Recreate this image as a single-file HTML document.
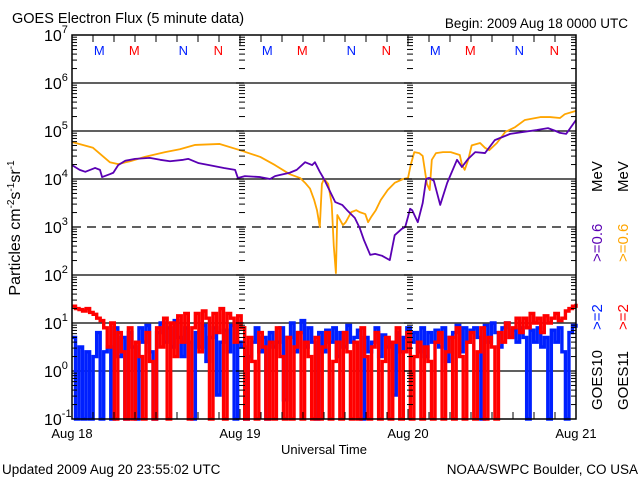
<!DOCTYPE html>
<html><head><meta charset="utf-8"><style>
html,body{margin:0;padding:0;background:#fff;}
svg{display:block;font-family:"Liberation Sans",sans-serif;}
</style></head><body>
<svg id="chart" width="640" height="480" viewBox="0 0 640 480" xmlns="http://www.w3.org/2000/svg">
<rect width="640" height="480" fill="#fff"/>
<text x="12" y="23" font-size="14.5">GOES Electron Flux (5 minute data)</text>
<text x="628" y="28" font-size="13.5" text-anchor="end">Begin: 2009 Aug 18 0000 UTC</text>
<g id="grid"></g>
<g id="series"></g>
<g id="axes"></g>
<text transform="translate(20,228) rotate(-90)" font-size="16" text-anchor="middle">Particles cm<tspan font-size="10" dy="-6">-2</tspan><tspan dy="6">s</tspan><tspan font-size="10" dy="-6">-1</tspan><tspan dy="6">sr</tspan><tspan font-size="10" dy="-6">-1</tspan></text>
<text x="324" y="454" font-size="13" text-anchor="middle">Universal Time</text>
<text x="2" y="474" font-size="13.5">Updated 2009 Aug 20 23:55:02 UTC</text>
<text x="638" y="474" font-size="13.5" text-anchor="end">NOAA/SWPC Boulder, CO USA</text>
<g transform="translate(602,410) rotate(-90)" font-size="15">
<text x="0" y="0">GOES10</text>
<text x="80" y="0" fill="#0020ff">&gt;=2</text>
<text x="148" y="0" fill="#5a00b4">&gt;=0.6</text>
<text x="218" y="0">MeV</text>
</g>
<g transform="translate(628,410) rotate(-90)" font-size="15">
<text x="0" y="0">GOES11</text>
<text x="80" y="0" fill="#ff0000">&gt;=2</text>
<text x="148" y="0" fill="#ffa500">&gt;=0.6</text>
<text x="218" y="0">MeV</text>
</g>
</svg>
<script>
// ---- data ----
const dayLabels = ["Aug 18","Aug 19","Aug 20","Aug 21"];
const yTickExps = [7,6,5,4,3,2,1,0,-1];
const markerLetters = ["M","M","N","N"];
const markerHours = [3.9,8.9,15.9,20.9];
// >=0.6 MeV GOES11 (orange): hours and log10 flux
const orangeHours = [0,3,5.4,6.6,8.3,10.4,13.3,15.4,17.6,21.1,24,26.9,29,31.1,32.6,33.3,34,34.6,35,35.4,35.7,36,36.6,37.1,37.4,37.7,37.9,38.1,38.7,39.1,39.9,40.6,41.1,41.9,42.3,42.7,43.4,44.1,45.1,46.1,47.3,48,48.4,48.9,49.6,50.1,50.7,51.1,51.4,52,53,54.1,55.4,55.7,56.1,56.6,57.1,58.3,59,59.6,60.7,61.9,63.3,64.7,66.9,68.3,69.7,70.4,72];
const orangeLog = [4.77,4.65,4.35,4.31,4.37,4.46,4.56,4.62,4.71,4.73,4.6,4.46,4.29,4.1,4.02,3.92,3.8,3.56,3.35,3.0,3.9,4.0,3.9,3.48,2.6,2.04,3.25,3.2,3.04,3.1,3.31,3.35,3.31,3.27,3.1,3.2,3.35,3.56,3.77,3.92,4.0,4.02,4.3,4.56,4.54,4.48,3.9,3.77,4.4,4.54,4.56,4.56,4.5,4.3,4.19,4.4,4.7,4.75,4.65,4.6,4.75,4.98,5.08,5.23,5.29,5.29,5.27,5.35,5.42];
// >=0.6 MeV GOES10 (purple)
const purpleHours = [0,1.1,1.9,3.3,4,4.3,5.4,5.9,6.6,7.6,9,11.1,12.6,14,15.9,16.6,18.1,19.6,21.7,23.3,23.7,24.7,26.9,28.3,29,29.6,31.1,32.1,33.3,34.3,34.7,35.4,36,36.9,37.6,38.6,39.3,40.4,41.1,41.7,42.6,43.3,44.3,45.4,46.1,47.1,47.6,48,48.3,48.6,49.4,50.1,50.6,50.9,51.1,51.7,52.6,53.6,55,55.7,56.6,57.6,59,60.4,62.6,66.4,68,69.1,69.7,70.6,72];
const purpleLog = [4.29,4.19,4.15,4.23,4.19,4.04,4.1,4.13,4.29,4.38,4.42,4.44,4.4,4.37,4.4,4.42,4.33,4.29,4.23,4.19,4.02,4.06,4.04,4.0,4.06,4.08,4.13,4.19,4.35,4.29,4.35,4.15,4.0,3.73,3.52,3.46,3.35,3.19,2.98,2.73,2.42,2.44,2.4,2.31,2.83,2.96,3.0,3.21,3.38,3.35,3.1,3.5,4.0,4.02,4.02,3.96,3.46,3.92,4.4,4.25,4.42,4.56,4.54,4.81,4.94,5.02,5.06,5.0,4.96,4.94,5.23];
// >=2 MeV GOES10 (blue), 30-minute samples, log10 flux
const blueLog = [0.7,-1,0.5,-1,0.4,-1,0.3,0.8,-1,0.4,0.5,-1,0.9,0.3,0.7,-1,
0.8,0.5,-1,0.9,0.6,0.95,0.4,-1,0.8,1.0,0.6,0.9,0.5,1.05,0.7,0.3,
0.9,0.6,-1,0.8,0.5,0.95,0.2,0.7,0.9,-0.5,0.6,0.85,0.4,0.95,-1,0.6,
0.5,-1,0.3,0.6,0.9,0.4,0.7,-1,0.8,0.5,0.6,0.9,-0.6,0.7,1.0,0.4,
0.8,1.05,0.5,0.9,0.6,-1,0.8,0.4,0.85,0.6,0.9,0.3,0.8,0.5,0.95,0.6,
0.7,0.85,-1,0.7,0.4,0.6,0.9,0.3,0.75,0.5,0.6,-0.5,0.8,0.4,0.7,0.9,
0.6,0.8,0.4,0.9,0.3,0.8,0.6,0.85,0.5,0.9,0.2,0.7,0.8,0.95,0.4,0.9,
0.6,0.85,0.9,0.7,-1,0.95,0.6,1.0,0.8,0.5,0.9,1.0,0.7,0.85,0.6,0.9,
0.7,-1,0.85,0.6,0.9,0.5,0.7,-1,0.85,0.6,0.9,0.4,-1,0.8,0.95,0.9];
// >=2 MeV GOES11 (red)
const redLog = [1.35,1.3,1.28,1.25,1.3,1.22,1.18,1.1,1.05,0.9,0.5,1.0,-1,0.8,0.4,-1,
0.9,-1,0.6,0.3,-1,0.8,0.2,-1,0.9,0.5,1.1,-1,1.0,0.3,1.15,0.6,
1.2,-1,0.9,1.2,0.4,1.25,1.1,-1,1.2,0.8,1.3,-1,1.2,1.1,0.6,1.15,
0.9,-1,0.7,0.2,-1,0.8,0.5,-1,0.6,-1,0.9,0.3,-1,0.7,-1,0.5,
0.8,-1,0.6,0.3,-1,0.7,-1,0.5,0.8,-1,0.2,0.6,-1,0.8,0.4,-1,
0.6,-1,0.9,0.3,-1,0.5,0.8,-1,0.2,0.7,-1,0.6,0.9,-1,0.4,0.8,
-1,0.3,0.6,-1,0.5,0.2,-1,0.6,0.8,-1,0.4,0.7,-1,0.9,0.3,-1,
0.6,0.8,-1,0.4,0.9,-1,0.7,0.5,-1,0.8,0.6,1.0,0.7,0.9,1.1,0.8,
1.1,0.9,1.2,1.0,1.1,0.8,1.15,1.0,1.1,1.2,1.05,1.1,1.25,1.3,1.35,1.4];

// ---- scales ----
const X0=72, X1=576, Y0=35, Y1=419, LMAX=7, LMIN=-1;
function xs(h){return X0+(X1-X0)*h/72;}
function ys(l){l=Math.max(LMIN,Math.min(LMAX,l));return Y0+(LMAX-l)*(Y1-Y0)/(LMAX-LMIN);}
const NS="http://www.w3.org/2000/svg";
function mk(tag,attrs,parent){const e=document.createElementNS(NS,tag);for(const k in attrs)e.setAttribute(k,attrs[k]);parent.appendChild(e);return e;}
const grid=document.getElementById('grid'), ser=document.getElementById('series'), axes=document.getElementById('axes');

[6,5,4,3,2,1,0].forEach(function(e){
  const ln=mk('line',{x1:X0,x2:X1,y1:ys(e),y2:ys(e),stroke:'#000','stroke-width':1.3},grid);
  if(e===3) ln.setAttribute('stroke-dasharray','9,6');
  
  
});
for(let e=LMIN;e<LMAX;e++){
  for(let k=2;k<=9;k++){
    const y=ys(e+Math.log10(k));
    mk('line',{x1:X0,x2:X0+5,y1:y,y2:y,stroke:'#000','stroke-width':1},axes);
    mk('line',{x1:X1-5,x2:X1,y1:y,y2:y,stroke:'#000','stroke-width':1},axes);
    [24,48].forEach(function(h){mk('line',{x1:xs(h)-1,x2:xs(h)+5,y1:y,y2:y,stroke:'#000','stroke-width':1},axes);});
  }
  [24,48].forEach(function(h){mk('line',{x1:xs(h)-4,x2:xs(h)+4,y1:ys(e),y2:ys(e),stroke:'#000','stroke-width':1.3},axes);});
}
for(let h=3;h<72;h+=3){
  const x=xs(h), L=(h%24===0)?10:7;
  mk('line',{x1:x,x2:x,y1:Y1,y2:Y1-L,stroke:'#000','stroke-width':1},axes);
  mk('line',{x1:x,x2:x,y1:Y0,y2:Y0+L,stroke:'#000','stroke-width':1},axes);
}
const fr=mk('rect',{x:X0,y:Y0,width:X1-X0,height:Y1-Y0,fill:'none',stroke:'#000','stroke-width':1.5},axes);


yTickExps.forEach(function(e){
  const t=mk('text',{x:44,y:ys(e)+6,'font-size':16},axes);
  
  
  t.textContent='10';
  const s=mk('tspan',{'font-size':11,dy:-8},t);s.textContent=String(e);
});
dayLabels.forEach(function(d,i){
  const t=mk('text',{x:xs(i*24),y:438,'font-size':13,'text-anchor':'middle'},axes);
  
  
  t.textContent=d;
});
[0,24,48].forEach(function(off){
  markerHours.forEach(function(h,i){
    const t=mk('text',{x:xs(h+off),y:55,'font-size':13,'text-anchor':'middle',fill:(i%2===0)?'#0020ff':'#ff0000'},axes);
    
    
    t.textContent=markerLetters[i];
  });
});
function stepPath(hours,vals){
  let d='';
  for(let i=0;i<vals.length;i++){
    const x=xs(hours[i]), y=ys(vals[i]);
    if(i===0) d+='M'+x+','+y; else d+='H'+x+'V'+y;
  }
  return d;
}
function linePath(hours,vals){
  let d='';
  for(let i=0;i<vals.length;i++){
    d+=(i===0?'M':'L')+xs(hours[i])+','+ys(vals[i]);
  }
  return d;
}
function uniformHours(n){const a=[];for(let i=0;i<n;i++)a.push(i*72/(n-1));return a;}
const pb=mk('path',{d:stepPath(uniformHours(blueLog.length),blueLog),fill:'none',stroke:'#0020ff','stroke-width':3.4},ser);


const pr=mk('path',{d:stepPath(uniformHours(redLog.length),redLog),fill:'none',stroke:'#ff0000','stroke-width':3.4},ser);


const po=mk('path',{d:linePath(orangeHours,orangeLog),fill:'none',stroke:'#ffa500','stroke-width':1.8,'stroke-linejoin':'round'},ser);


const pp=mk('path',{d:linePath(purpleHours,purpleLog),fill:'none',stroke:'#5a00b4','stroke-width':1.8,'stroke-linejoin':'round'},ser);


</script>
</body></html>
